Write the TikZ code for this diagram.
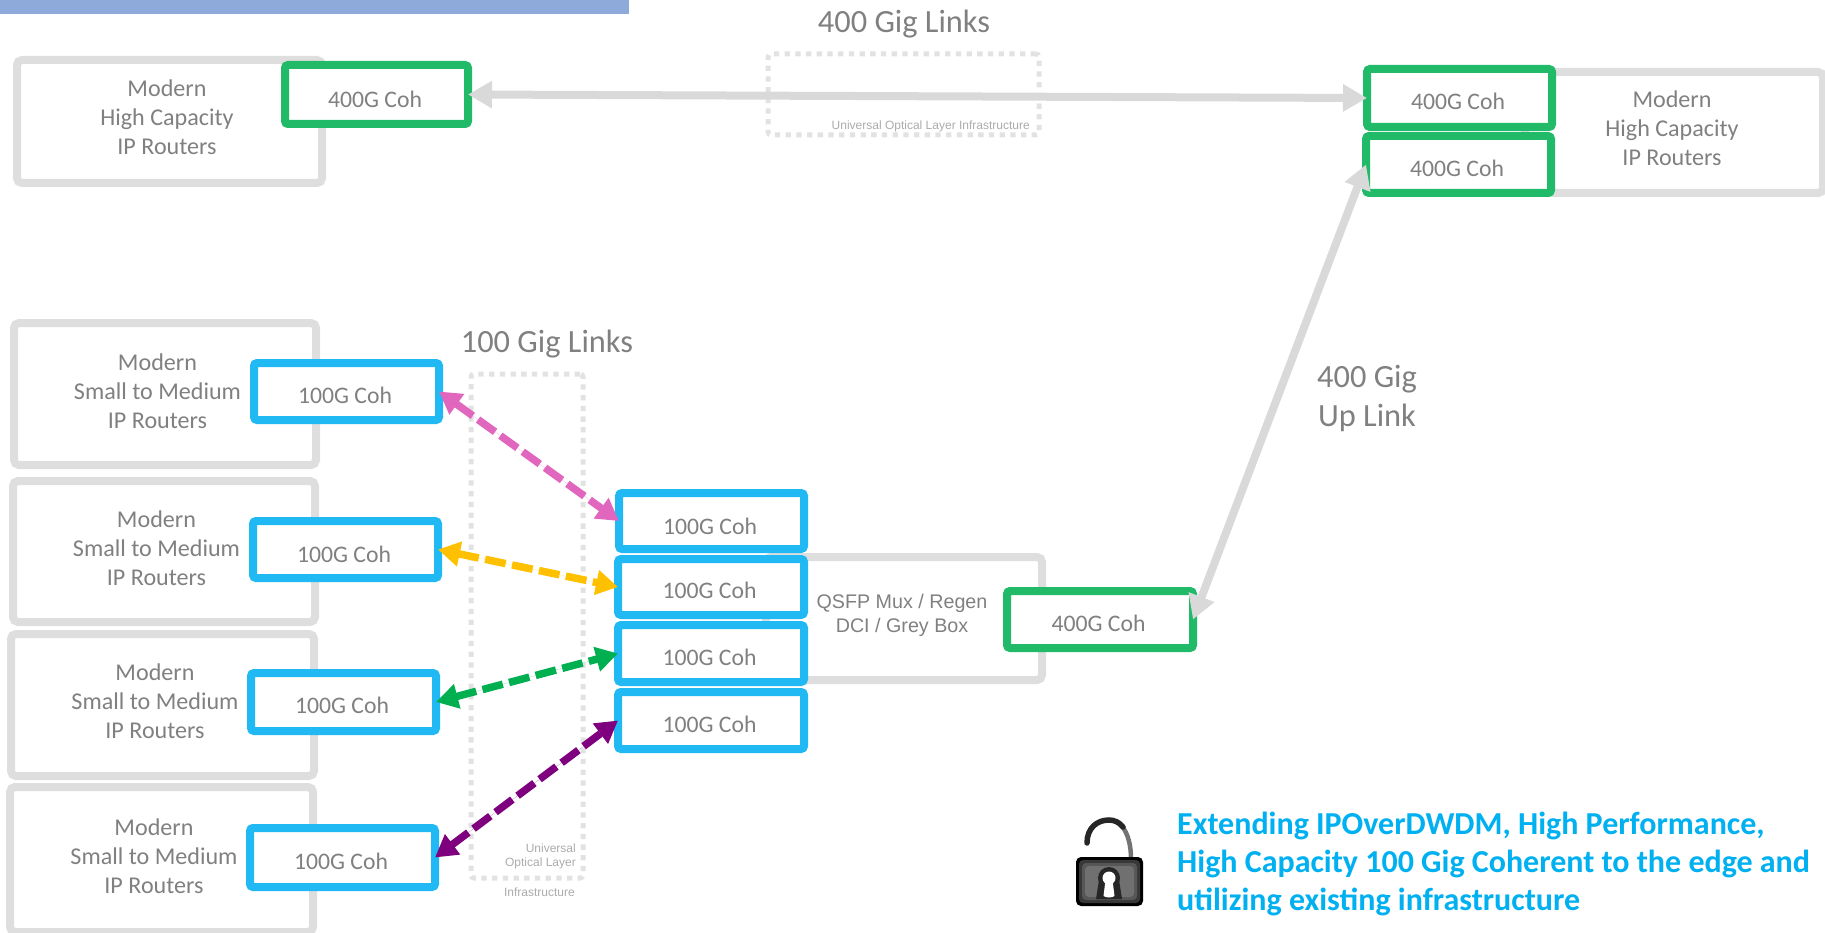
\documentclass[tikz,border=0pt]{standalone}
\usepackage{fontspec}
\setmainfont{Carlito}
\newfontfamily\arialf{Liberation Sans}
\usetikzlibrary{arrows.meta}
\definecolor{txtgrey}{HTML}{808080}
\definecolor{boxgrey}{HTML}{DEDEDE}
\definecolor{linkgrey}{HTML}{D9D9D9}
\definecolor{dotgrey}{HTML}{E2E2E2}
\definecolor{cohblue}{HTML}{20B9F3}
\definecolor{cohgreen}{HTML}{20BA69}
\definecolor{barblue}{HTML}{8EAADB}
\definecolor{noteblue}{HTML}{00B0F0}
\definecolor{linkpink}{HTML}{E066BE}
\definecolor{linkyellow}{HTML}{FFC000}
\definecolor{linkgreen}{HTML}{00AF50}
\definecolor{linkpurple}{HTML}{7F007F}
% #1: how far the text sits below the centre of its box
\newcommand{\cohlabel}[2]{\raisebox{0pt}[\dimexpr 15pt+2\dimexpr #1\relax\relax][0pt]{\hspace*{-3pt}#2}}
\tikzset{
  routerbox/.style={draw=boxgrey,line width=8pt,rounded corners=5pt,outer sep=0pt,inner sep=0pt,anchor=north west,rectangle},
  cohbox/.style={rectangle,fill=white,line width=8pt,rounded corners=3pt,outer sep=0pt,inner sep=0pt,text=txtgrey,font=\fontsize{23.7}{28}\selectfont},
  bluecoh/.style={cohbox,draw=cohblue},
  greencoh/.style={cohbox,draw=cohgreen},
  routertext/.style={text=txtgrey,align=center,font=\fontsize{24.1}{29}\selectfont,inner sep=0pt},
  headline/.style={text=txtgrey,align=center,font=\fontsize{32.4}{39}\selectfont,inner sep=0pt},
  infra/.style={text=black!33,align=right,font=\arialf\fontsize{12}{15}\selectfont,inner sep=0pt},
  dotbox/.style={draw=dotgrey,line width=5pt,dash pattern=on 5.3pt off 5.4pt,rounded corners=3pt,outer sep=0pt,rectangle,anchor=north west},
  greylink/.style={draw=linkgrey,line width=8pt,{Triangle[length=24pt,width=26pt]}-{Triangle[length=24pt,width=26pt]}},
  dashlink/.style={line width=7.5pt,dash pattern=on 21pt off 6.5pt,{Triangle[length=22pt,width=24pt]}-{Triangle[length=22pt,width=24pt]}},
}
\begin{document}
\begin{tikzpicture}[x=1pt,y=-1pt]
\useasboundingbox (0,0) rectangle (1825,933);
\fill[barblue] (0,0) rectangle (629,14);

% dotted infrastructure frames
\node[dotbox,minimum width=271pt,minimum height=81pt] (infratop) at (768,54) {};
\node[dotbox,minimum width=112pt,minimum height=504pt] (infraleft) at (471,374) {};

% router and mux boxes
\node[routerbox,minimum width=305pt,minimum height=123pt] (r1) at (17,60) {};
\node[routerbox,minimum width=298pt,minimum height=121pt] (r2) at (1525,72) {};
\node[routerbox,minimum width=302pt,minimum height=142pt] (s1) at (14,323) {};
\node[routerbox,minimum width=302pt,minimum height=141pt] (s2) at (13,481) {};
\node[routerbox,minimum width=303pt,minimum height=142pt] (s3) at (11,634) {};
\node[routerbox,minimum width=303pt,minimum height=145pt] (s4) at (10,787) {};
\node[routerbox,minimum width=276pt,minimum height=123pt] (mux) at (766,557) {};

% coherent modules
\node[greencoh,minimum width=183pt,minimum height=59pt] (g1) at (376.5,94.5) {\cohlabel{6pt}{400G Coh}};
\node[greencoh,minimum width=185pt,minimum height=58pt] (g2) at (1459.5,98) {\cohlabel{4pt}{400G Coh}};
\node[greencoh,minimum width=185pt,minimum height=57pt] (g3) at (1458.5,164.5) {\cohlabel{4.5pt}{400G Coh}};
\node[greencoh,minimum width=186pt,minimum height=57pt] (g4) at (1100,619.5) {\cohlabel{4.5pt}{400G Coh}};
\node[bluecoh,minimum width=185pt,minimum height=57pt] (a1) at (346.5,391.5) {\cohlabel{4.5pt}{100G Coh}};
\node[bluecoh,minimum width=185pt,minimum height=57pt] (a2) at (345.5,549.5) {\cohlabel{5pt}{100G Coh}};
\node[bluecoh,minimum width=185pt,minimum height=58pt] (a3) at (343.5,702) {\cohlabel{4pt}{100G Coh}};
\node[bluecoh,minimum width=185pt,minimum height=59pt] (a4) at (342.5,857.5) {\cohlabel{4.5pt}{100G Coh}};
\node[bluecoh,minimum width=185pt,minimum height=56pt] (b1) at (711.5,521) {\cohlabel{6pt}{100G Coh}};
\node[bluecoh,minimum width=186pt,minimum height=56pt] (b2) at (711,587) {\cohlabel{4pt}{100G Coh}};
\node[bluecoh,minimum width=186pt,minimum height=57pt] (b3) at (711,653.5) {\cohlabel{4.5pt}{100G Coh}};
\node[bluecoh,minimum width=186pt,minimum height=57pt] (b4) at (711,720.5) {\cohlabel{4.5pt}{100G Coh}};

% links
\draw[greylink] (g1.east) -- (g2.west);
\draw[greylink] (g3.west) -- (g4.east);
\draw[dashlink,draw=linkpink,fill=linkpink] (a1.east) -- (b1.west);
\draw[dashlink,draw=linkyellow,fill=linkyellow] (a2.east) -- (b2.west);
\draw[dashlink,draw=linkgreen,fill=linkgreen] (a3.east) -- (b3.west);
\draw[dashlink,draw=linkpurple,fill=linkpurple] (a4.east) -- (b4.west);

% texts
\node[routertext] (t1) at (167,117) {Modern\\High Capacity\\IP Routers};
\node[routertext] (t2) at (1672,128.5) {Modern\\High Capacity\\IP Routers};
\node[routertext] (t3) at (157.5,391) {Modern\\Small to Medium\\IP Routers};
\node[routertext] (t4) at (156.5,548) {Modern\\Small to Medium\\IP Routers};
\node[routertext] (t5) at (155,701) {Modern\\Small to Medium\\IP Routers};
\node[routertext] (t6) at (154,856) {Modern\\Small to Medium\\IP Routers};
\node[text=txtgrey,align=center,inner sep=0pt,font=\arialf\fontsize{19.7}{23.5}\selectfont] (muxtext) at (902,615.5) {QSFP Mux / Regen\\DCI / Grey Box};
\node[headline] (h1) at (904,24.5) {400 Gig Links};
\node[headline] (h2) at (547,344.5) {100 Gig Links};
\node[headline] (h3) at (1367,398.5) {400 Gig\\Up Link};
\node[infra,anchor=east] (i1) at (1030,126) {Universal Optical Layer Infrastructure};
\node[infra,anchor=east] (i2) at (576,848) {Universal};
\node[infra,anchor=east] (i3) at (576,863) {Optical Layer};
\node[infra,anchor=east] (i4) at (575,892) {Infrastructure};
\node[anchor=west,align=left,inner sep=0pt,text=noteblue,font=\bfseries\fontsize{32}{38.4}\selectfont] (note) at (1177,864) {Extending IPOverDWDM, High Performance,\\High Capacity 100 Gig Coherent to the edge and\\utilizing existing infrastructure};

% open padlock
\draw[black!55,line width=4.5pt] (1122,826) .. controls (1128,834) and (1131,845) .. (1131,859);
\draw[black!85,line width=5.5pt,line cap=round] (1087,843) .. controls (1087,828) and (1097,820) .. (1109,820) .. controls (1114,820) and (1119,822) .. (1123,827);
\fill[black,rounded corners=5pt] (1076,857) rectangle (1143,906);
\fill[black!78,rounded corners=4pt] (1079,860) rectangle (1140,903);
\fill[black!66,rounded corners=4pt] (1082,863) rectangle (1137,900);
\fill[black!56,rounded corners=4pt] (1085,866) rectangle (1134,897);
% keyhole with its dark halo
\fill[black!85] (1109,878) circle (11pt);
\fill[black!85] (1099,880) -- (1119,880) -- (1122,899) -- (1096,899) -- cycle;
\fill[white] (1109,878) circle (6.5pt);
\fill[white] (1105.5,880) -- (1112.5,880) -- (1114.5,896) .. controls (1112,898) and (1106,898) .. (1103.5,896) -- cycle;
\end{tikzpicture}
\end{document}
